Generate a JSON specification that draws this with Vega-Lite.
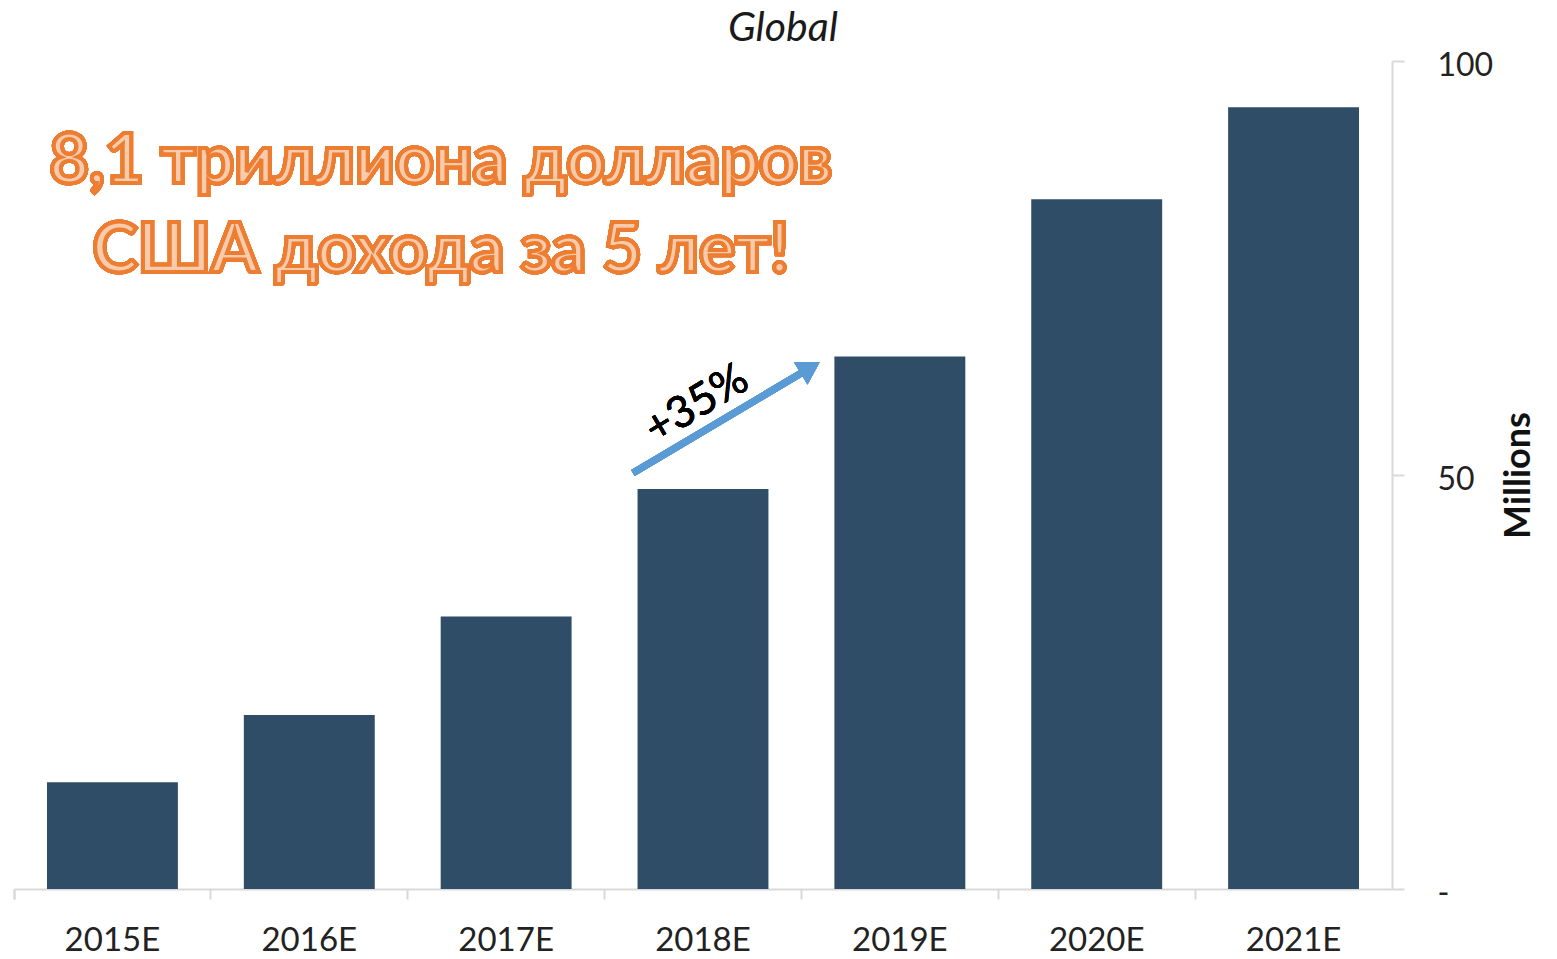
{
  "$schema": "https://vega.github.io/schema/vega-lite/v6.json",
  "autosize": {"type": "none"},
  "padding": {"left": 14, "top": 61, "right": 165, "bottom": 70},
  "width": 1378,
  "height": 828,
  "background": "white",
  "title": {
    "text": "Global",
    "anchor": "middle",
    "dx": 80,
    "offset": 20,
    "dy": 21,
    "font": "Lato",
    "fontSize": 41,
    "fontStyle": "italic",
    "fontWeight": "normal",
    "color": "#1a1a1a"
  },
  "config": {"view": {"stroke": null}},
  "data": {
    "values": [
      {"year": "2015E", "value": 12.9},
      {"year": "2016E", "value": 21.0},
      {"year": "2017E", "value": 32.9},
      {"year": "2018E", "value": 48.3},
      {"year": "2019E", "value": 64.3},
      {"year": "2020E", "value": 83.3},
      {"year": "2021E", "value": 94.4}
    ]
  },
  "layer": [
    {
      "mark": {"type": "bar", "color": "#2F4D66", "width": {"band": 0.665}},
      "encoding": {
        "x": {
          "field": "year",
          "type": "nominal",
          "scale": {"paddingInner": 0, "paddingOuter": 0},
          "axis": {
            "title": null,
            "labelAngle": 0,
            "bandPosition": 0,
            "tickExtra": true,
            "domainColor": "#D9D9D9",
            "domainWidth": 2,
            "tickColor": "#D9D9D9",
            "tickWidth": 2,
            "tickSize": 10,
            "labelPadding": 25,
            "labelFont": "Lato",
            "labelFontSize": 33,
            "labelColor": "#222222"
          }
        },
        "y": {
          "field": "value",
          "type": "quantitative",
          "scale": {"domain": [0, 100], "nice": false},
          "axis": {
            "orient": "right",
            "values": [0, 50, 100],
            "labelExpr": "datum.value == 0 ? '-' : datum.label",
            "grid": false,
            "domainColor": "#D9D9D9",
            "domainWidth": 2,
            "tickColor": "#D9D9D9",
            "tickWidth": 2,
            "tickSize": 12,
            "labelPadding": 33,
            "labelAlign": "left",
            "labelBaseline": "middle",
            "labelOffset": 4,
            "labelFont": "Lato",
            "labelFontSize": 32,
            "labelColor": "#222222",
            "title": "Millions",
            "titleFont": "Lato",
            "titleFontSize": 36,
            "titleFontWeight": "bold",
            "titleColor": "#111111",
            "titleAngle": 270,
            "titleAlign": "center",
            "titleBaseline": "middle",
            "titleX": 126,
            "titleY": 414
          }
        }
      }
    },
    {
      "layer": [
        {
          "mark": {"type": "rule", "color": "#5B9BD5", "strokeWidth": 7},
          "encoding": {
            "x": {"datum": 3.144, "type": "quantitative", "scale": {"domain": [0, 7], "nice": false, "zero": false}, "axis": null},
            "x2": {"datum": 4.017},
            "y": {"datum": 50.24, "type": "quantitative"},
            "y2": {"datum": 62.56}
          }
        },
        {
          "mark": {"type": "point", "shape": "M-0.85,-1L0.85,0L-0.85,1Z", "filled": true, "color": "#5B9BD5", "opacity": 1, "size": 676, "angle": 329},
          "encoding": {
            "x": {"datum": 4.045, "type": "quantitative", "scale": {"domain": [0, 7], "nice": false, "zero": false}, "axis": null},
            "y": {"datum": 62.97, "type": "quantitative"}
          }
        },
        {
          "mark": {"type": "text", "text": "+35%", "angle": 329, "font": "Lato", "fontSize": 44, "color": "#000000", "align": "center", "baseline": "middle"},
          "encoding": {
            "x": {"datum": 3.469, "type": "quantitative", "scale": {"domain": [0, 7], "nice": false, "zero": false}, "axis": null},
            "y": {"datum": 58.5, "type": "quantitative"}
          }
        },
        {
          "mark": {"type": "text", "text": ["8,1 триллиона долларов", "США дохода за 5 лет!"], "lineHeight": 89, "font": "Lato", "fontSize": 68, "fontWeight": "bold", "fill": "#F8CBAD", "stroke": "#ED7D31", "strokeWidth": 4, "align": "center", "baseline": "alphabetic"},
          "encoding": {
            "x": {"datum": 2.168, "type": "quantitative", "scale": {"domain": [0, 7], "nice": false, "zero": false}, "axis": null},
            "y": {"datum": 85.27, "type": "quantitative"}
          }
        }
      ]
    }
  ],
  "resolve": {"scale": {"x": "independent"}}
}
